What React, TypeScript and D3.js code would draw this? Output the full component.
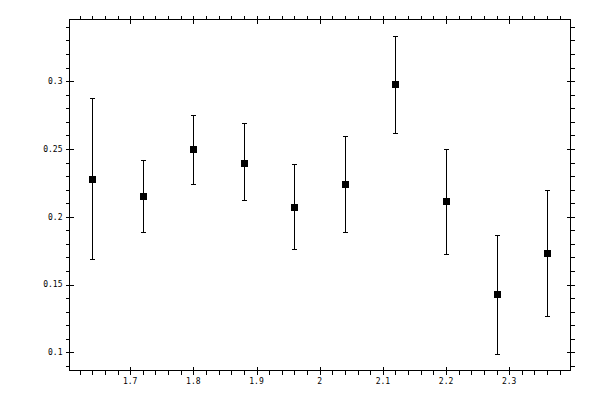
import React from 'react';
import * as d3 from 'd3';

// x positions of the measurements
const xValues = [1.64, 1.72, 1.8, 1.88, 1.96, 2.04, 2.12, 2.2, 2.28, 2.36];
// central values
const yValues = [0.2282, 0.2156, 0.2496, 0.24, 0.2074, 0.2245, 0.2975, 0.2117, 0.1431, 0.1736];
// upper / lower ends of the error bars
const yHigh = [0.2872, 0.2422, 0.2749, 0.2688, 0.2391, 0.2599, 0.3334, 0.25, 0.1866, 0.2198];
const yLow = [0.1691, 0.1891, 0.2238, 0.2122, 0.1764, 0.1888, 0.2614, 0.1728, 0.099, 0.1271];

const xTicks = [1.7, 1.8, 1.9, 2.0, 2.1, 2.2, 2.3];
const xTickLabels = ['1.7', '1.8', '1.9', '2', '2.1', '2.2', '2.3'];
const yTicks = [0.1, 0.15, 0.2, 0.25, 0.3];
const yTickLabels = ['0.1', '0.15', '0.2', '0.25', '0.3'];

const xDomain = [1.604, 2.397];
const yDomain = [0.0867, 0.3454];

const width = 600;
const height = 400;
const frame = { left: 69.5, right: 570.5, top: 19.5, bottom: 370.5 };

const xScale = d3.scaleLinear().domain(xDomain).range([frame.left, frame.right]);
const yScale = d3.scaleLinear().domain(yDomain).range([frame.bottom, frame.top]);

const inDomain = (v: number, [a, b]: number[]) => v >= a && v <= b;
const xMinor = d3.range(80, 121).map((d) => d / 50).filter((v) => inDomain(v, xDomain));
const yMinor = d3.range(8, 36).map((d) => d / 100).filter((v) => inDomain(v, yDomain));

const px = (v: number) => Math.round(v) + 0.5;

const font = { fontFamily: '"DejaVu Sans Mono", monospace', fontSize: 8 };

export default function App() {
  const stroke = '#000';
  return (
    <svg
      width={width}
      height={height}
      viewBox={`0 0 ${width} ${height}`}
      style={{ position: 'absolute', left: 0, top: 0, background: '#fff' }}
      shapeRendering="crispEdges"
    >
      <rect
        x={frame.left}
        y={frame.top}
        width={frame.right - frame.left}
        height={frame.bottom - frame.top}
        fill="none"
        stroke={stroke}
      />
      <g className="minor-ticks" stroke={stroke}>
        {xMinor.map((v, i) => (
          <g key={`xm${i}`}>
            <line x1={px(xScale(v))} x2={px(xScale(v))} y1={frame.bottom} y2={frame.bottom + 4} />
            <line x1={px(xScale(v))} x2={px(xScale(v))} y1={frame.top} y2={frame.top - 4} />
          </g>
        ))}
        {yMinor.map((v, i) => (
          <g key={`ym${i}`}>
            <line x1={frame.left} x2={frame.left - 4} y1={px(yScale(v))} y2={px(yScale(v))} />
            <line x1={frame.right} x2={frame.right + 4} y1={px(yScale(v))} y2={px(yScale(v))} />
          </g>
        ))}
      </g>
      <g className="major-ticks" stroke={stroke}>
        {xTicks.map((v, i) => (
          <g key={`xt${i}`}>
            <line x1={px(xScale(v))} x2={px(xScale(v))} y1={frame.bottom - 4} y2={frame.bottom + 4} />
            <line x1={px(xScale(v))} x2={px(xScale(v))} y1={frame.top - 4} y2={frame.top + 4} />
          </g>
        ))}
        {yTicks.map((v, i) => (
          <g key={`yt${i}`}>
            <line x1={frame.left - 4} x2={frame.left + 4} y1={px(yScale(v))} y2={px(yScale(v))} />
            <line x1={frame.right - 4} x2={frame.right + 4} y1={px(yScale(v))} y2={px(yScale(v))} />
          </g>
        ))}
      </g>
      <g className="labels" style={font} fill="#000">
        {xTicks.map((v, i) => (
          <text key={`xl${i}`} x={xScale(v)} y={frame.bottom + 13} textAnchor="middle">
            {xTickLabels[i]}
          </text>
        ))}
        {yTicks.map((v, i) => (
          <text key={`yl${i}`} x={frame.left - 7} y={yScale(v)} dy="0.35em" textAnchor="end">
            {yTickLabels[i]}
          </text>
        ))}
      </g>
      <g className="data" stroke={stroke}>
        {xValues.map((x, i) => {
          const cx = px(xScale(x));
          return (
            <g key={i}>
              <line x1={cx} x2={cx} y1={yScale(yLow[i])} y2={yScale(yHigh[i])} />
              <line x1={cx - 2.5} x2={cx + 2.5} y1={px(yScale(yHigh[i]))} y2={px(yScale(yHigh[i]))} />
              <line x1={cx - 2.5} x2={cx + 2.5} y1={px(yScale(yLow[i]))} y2={px(yScale(yLow[i]))} />
              <rect
                x={cx - 3.5}
                y={Math.round(yScale(yValues[i])) - 3}
                width={7}
                height={7}
                fill="#000"
                stroke="none"
              />
            </g>
          );
        })}
      </g>
    </svg>
  );
}
